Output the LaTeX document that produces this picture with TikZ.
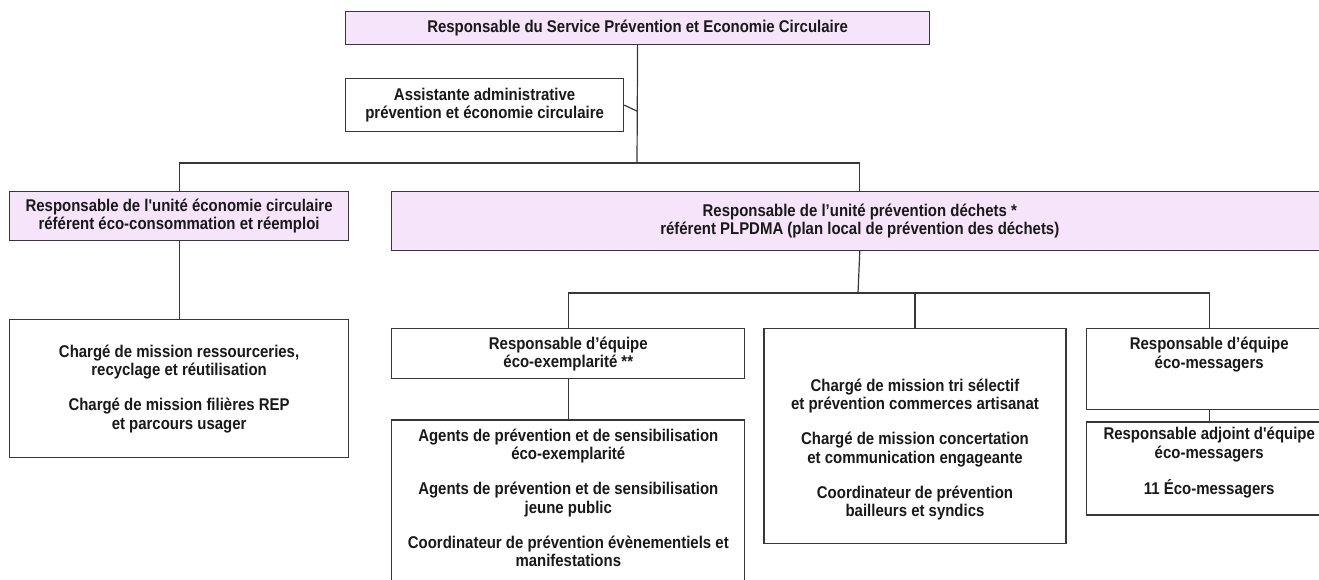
\documentclass[tikz,border=0pt]{standalone}
\usepackage{fontspec}
\newfontfamily\orgfont{Liberation Sans}[FakeStretch=0.88]
\usetikzlibrary{positioning}
\definecolor{lilac}{RGB}{245,228,250}
\definecolor{edge}{RGB}{55,55,55}
\tikzstyle{box} = [rectangle, draw=edge, line width=1.2pt, fill=white, align=center, inner xsep=0pt, inner ysep=0pt, anchor=north west, text=black!90, font={\orgfont\bfseries\fontsize{17}{18.5}\selectfont}]
\tikzstyle{unit} = [box, fill=lilac]
\tikzstyle{link} = [draw=edge, line width=1.2pt]

\begin{document}
\begin{tikzpicture}[x=1pt, y=-1pt]
	\clip (0,0) rectangle (1319,579);

	% Head of service
	\node (head) [unit, minimum width=584pt, minimum height=33pt] at (345,11) {Responsable du Service Prévention et Economie Circulaire};
	\node (assistant) [box, minimum width=278pt, minimum height=53pt] at (345,78) {Assistante administrative\\prévention et économie circulaire};

	% Units
	\node (ecocirc) [unit, minimum width=339pt, minimum height=49pt] at (9,191) {Responsable de l'unité économie circulaire\\référent éco-consommation et réemploi};
	\node (prev_unit) [unit, minimum width=936pt, minimum height=59pt, right=42pt of ecocirc.north east, anchor=north west] {Responsable de l’unité prévention déchets *\\référent PLPDMA (plan local de prévention des déchets)};

	% Economie circulaire - missions
	\node (missions_ec) [box, minimum width=339pt, minimum height=138pt, below=78pt of ecocirc.south west, anchor=north west] {Chargé de mission ressourceries,\\recyclage et réutilisation\\[16.5pt]Chargé de mission filières REP\\et parcours usager};

	% Prevention - teams
	\node (eq_exemp) [box, minimum width=353pt, minimum height=50pt, below=77pt of prev_unit.south west, anchor=north west] {Responsable d’équipe\\éco-exemplarité **};
	\node (agents) [box, minimum width=353pt, text height=146.5pt, text depth=36.5pt, below=40pt of eq_exemp.south west, anchor=north west] {Agents de prévention et de sensibilisation\\éco-exemplarité\\[16.5pt]Agents de prévention et de sensibilisation\\jeune public\\[16.5pt]Coordinateur de prévention évènementiels et\\manifestations};
	\node (mid) [box, minimum width=302pt, text height=188pt, text depth=27pt, right=18pt of eq_exemp.north east, anchor=north west] {Chargé de mission tri sélectif\\et prévention commerces artisanat\\[16.5pt]Chargé de mission concertation\\et communication engageante\\[16.5pt]Coordinateur de prévention\\bailleurs et syndics};
	\node (eq_msg) [box, minimum width=246pt, text height=39.5pt, text depth=41.5pt, right=19pt of mid.north east, anchor=north west] {Responsable d’équipe\\éco-messagers};
	\node (adjoint) [box, minimum width=246pt, text height=72.5pt, text depth=20.5pt, below=11pt of eq_msg.south west, anchor=north west] {Responsable adjoint d'équipe\\éco-messagers\\[16.5pt]11 Éco-messagers};

	% Junctions
	\coordinate (bus_top) at (637,163);
	\coordinate (bus_low) at (858,293);

	% Connections - top
	\draw[link] (head.south) -- (bus_top);
	\draw[link] (assistant.east) -- ([yshift=-6pt]assistant.east -| bus_top);
	\draw[link] (ecocirc.north) |- (bus_top) -| (prev_unit.north);
	\draw[link] (ecocirc.south) -- (missions_ec.north);

	% Connections - prevention
	\draw[link] (prev_unit.south) -- (bus_low);
	\draw[link] (eq_exemp.north) |- (bus_low) -| (eq_msg.north);
	\draw[link] (mid.north) -- (mid.north |- bus_low);
	\draw[link] (eq_exemp.south) -- (agents.north);
	\draw[link] (eq_msg.south) -- (adjoint.north);

\end{tikzpicture}
\end{document}
